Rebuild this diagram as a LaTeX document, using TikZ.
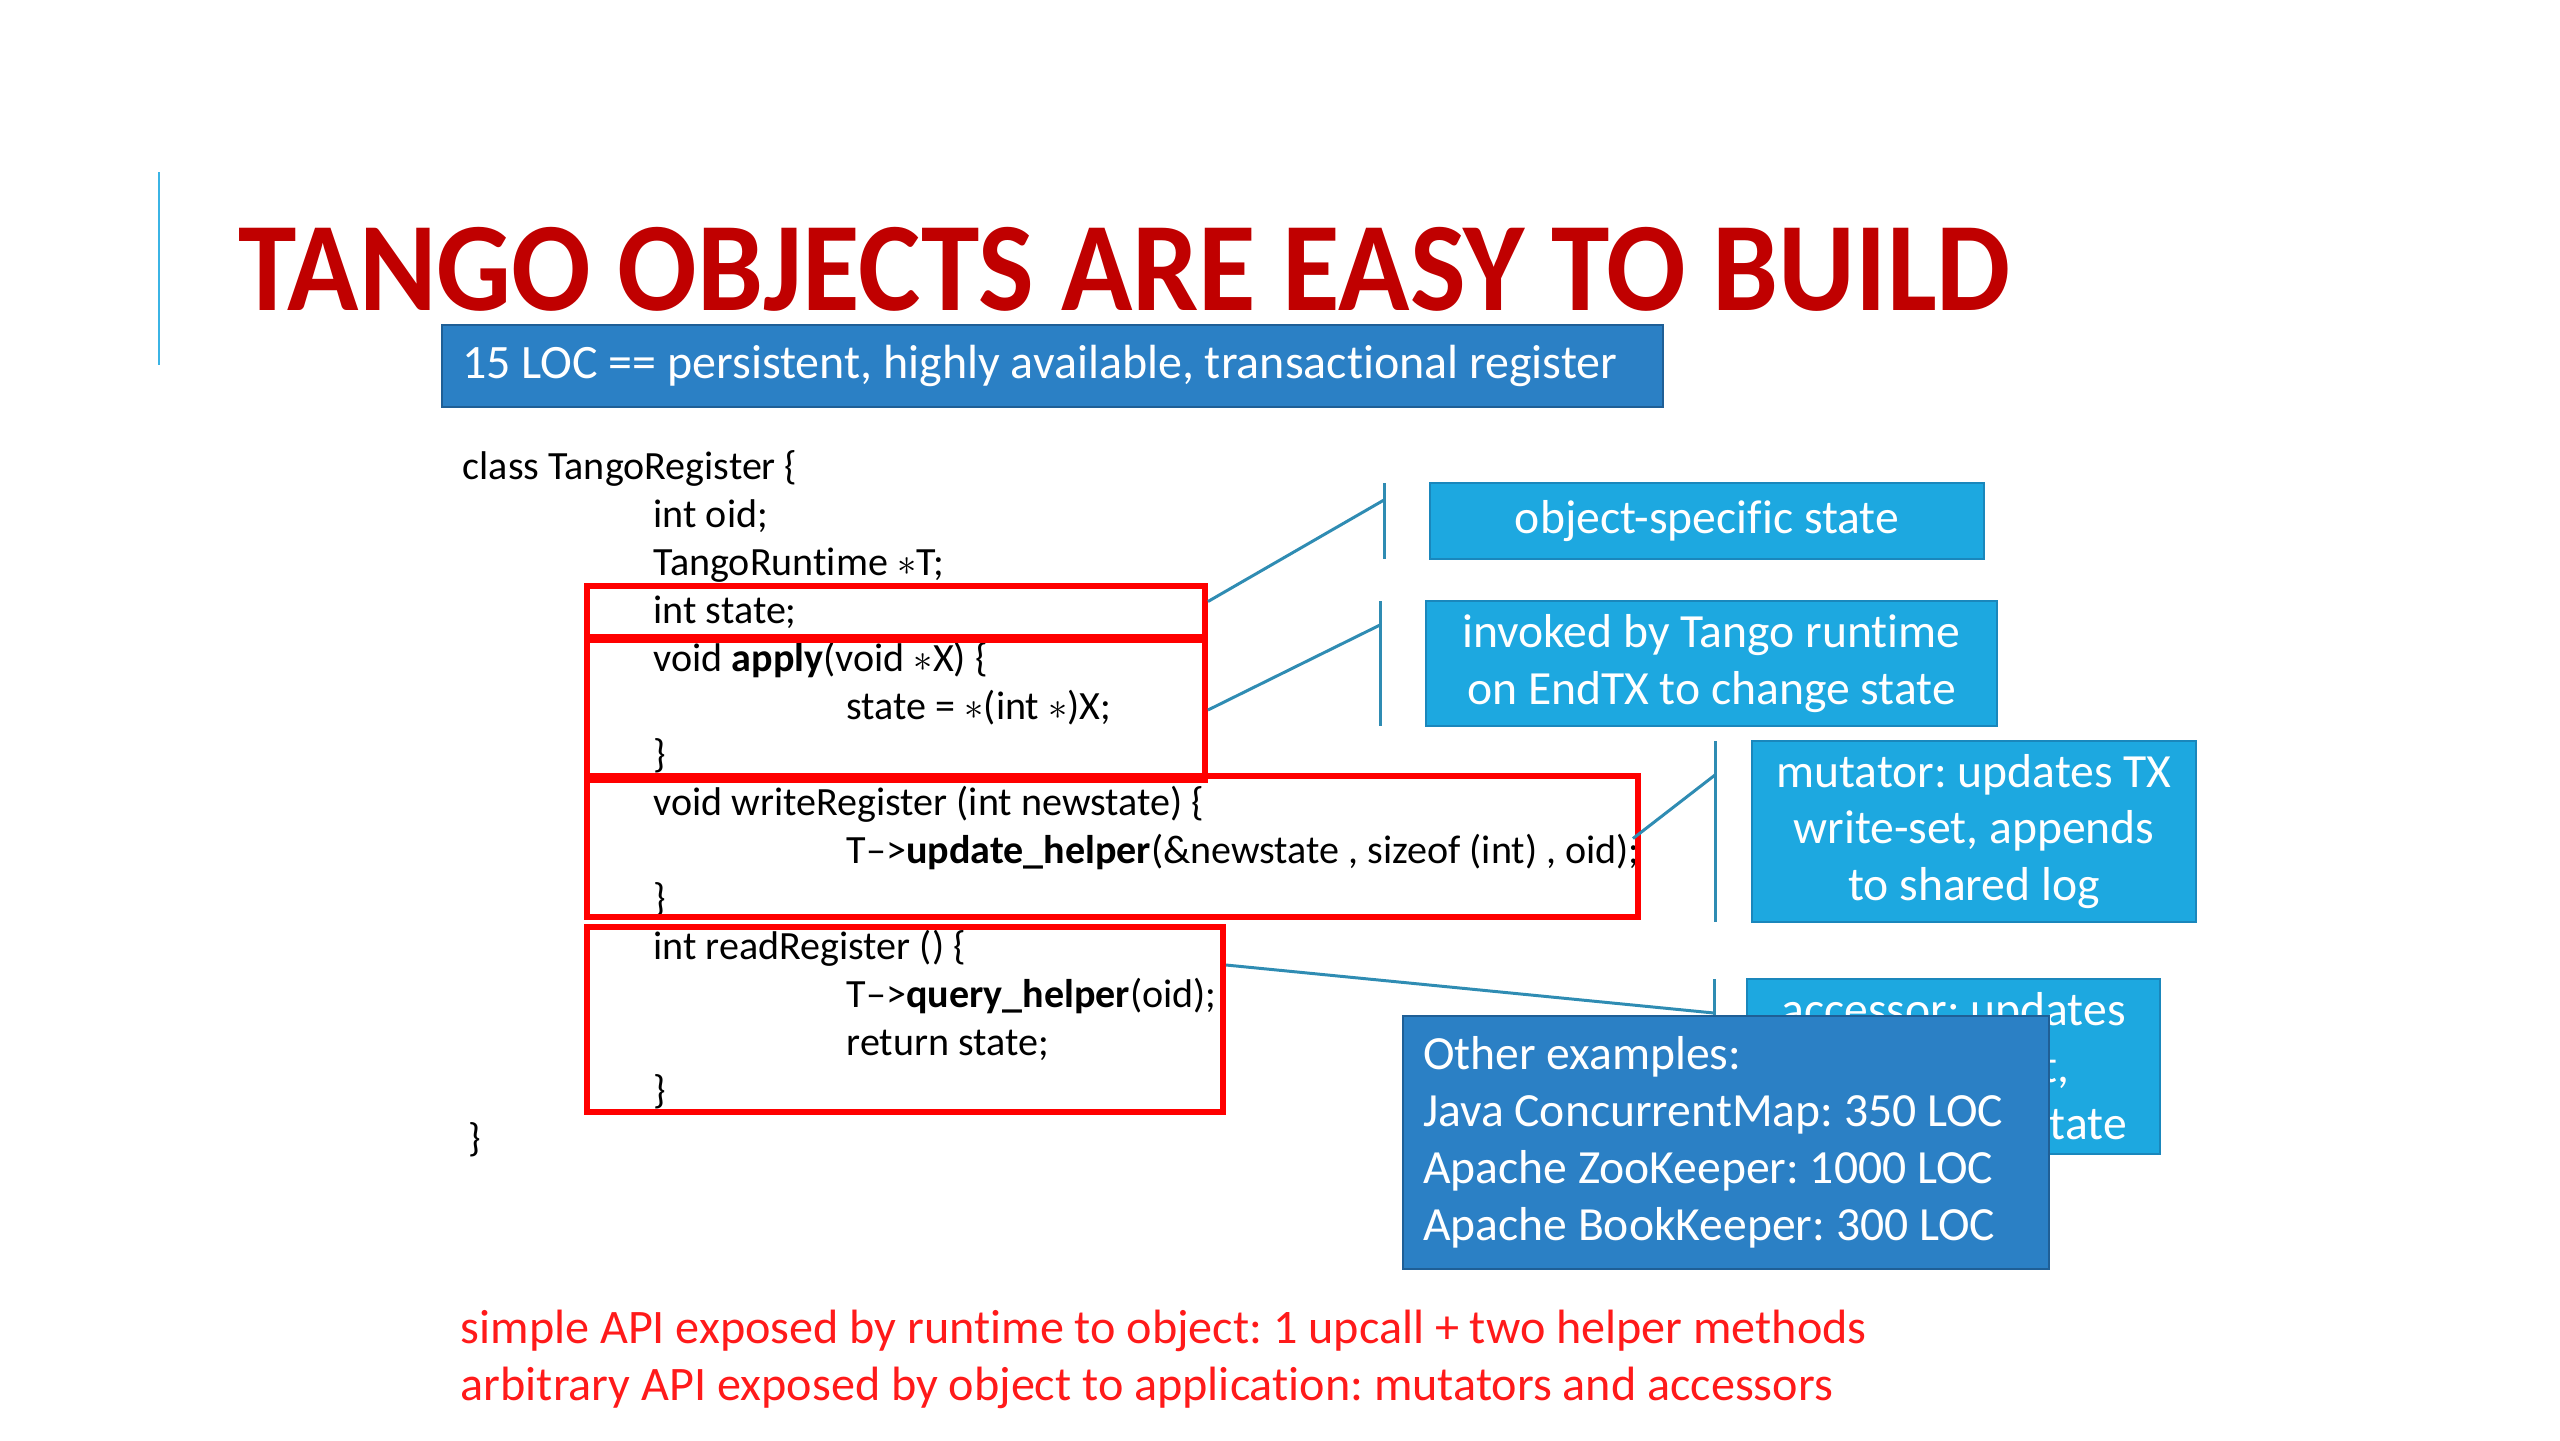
\documentclass[tikz,border=0pt]{standalone}
\usepackage{fontspec}
\setmainfont{Carlito}[Ligatures=CommonOff]
\newfontfamily\titlefont[FakeStretch=0.928,Ligatures=CommonOff]{Carlito}
\frenchspacing
\definecolor{titlered}{HTML}{C00000}
\definecolor{bannerblue}{HTML}{2B80C5}
\definecolor{banneredge}{HTML}{1F5F96}
\definecolor{notefill}{HTML}{1DA8E0}
\definecolor{notedge}{HTML}{1A87BC}
\definecolor{linkteal}{HTML}{2F8CB3}
\definecolor{boxred}{HTML}{FF0000}
\definecolor{apired}{HTML}{FF1A1A}
\definecolor{accent}{HTML}{3BB4E5}
\begin{document}
\begin{tikzpicture}[
    code/.style={anchor=base west, inner sep=0pt, font=\fontsize{11.4}{13.66}\selectfont},
    redbox/.style={draw=boxred, line width=1.7pt, inner sep=0pt},
    note/.style={draw=notedge, line width=0.8pt, fill=notefill, text=white, align=center, inner sep=0pt, font=\fontsize{13.55}{16.2}\selectfont},
    link/.style={draw=linkteal, line width=0.85pt}
  ]
  \useasboundingbox[fill=white] (0,0) rectangle (25.6,-14.4);

  % title
  \draw[accent, line width=0.85pt] (1.59,-1.72) -- (1.59,-3.65);
  \node[anchor=base west, inner sep=0pt, text=titlered, font=\titlefont\bfseries\fontsize{36.1}{40}\selectfont] (title) at (2.38,-3.10) {TANGO OBJECTS ARE EASY TO BUILD};
  \node[fill=bannerblue, draw=banneredge, line width=0.8pt, text=white, minimum width=12.21cm, minimum height=0.82cm, text width=11.81cm, inner xsep=0.2cm, inner ysep=0pt, align=flush left, font=\fontsize{13.65}{16.2}\selectfont] (banner) at (10.525,-3.66) {15 LOC == persistent, highly available, transactional register};

  % code
  \node[code] (l1) at (4.62,-4.79) {class TangoRegister \{};
  \node[code] (l2) at (6.53,-5.27) {int oid;};
  \node[code] (l3) at (6.53,-5.75) {TangoRuntime $\ast$T;};
  \node[code] (l4) at (6.53,-6.23) {int state;};
  \node[code] (l5) at (6.53,-6.71) {void \textbf{apply}(void $\ast$X) \{};
  \node[code] (l6) at (8.46,-7.19) {state = $\ast$(int $\ast$)X;};
  \node[code] (l7) at (6.53,-7.67) {\}};
  \node[code] (l8) at (6.53,-8.15) {void writeRegister (int newstate) \{};
  \node[code] (l9) at (8.46,-8.63) {T\textendash>\textbf{update\_helper}(\&newstate , sizeof (int) , oid);};
  \node[code] (l10) at (6.53,-9.11) {\}};
  \node[code] (l11) at (6.53,-9.59) {int readRegister () \{};
  \node[code] (l12) at (8.46,-10.07) {T\textendash>\textbf{query\_helper}(oid);};
  \node[code] (l13) at (8.46,-10.55) {return state;};
  \node[code] (l14) at (6.53,-11.03) {\}};
  \node[code] (l15) at (4.68,-11.51) {\}};

  \node[redbox, minimum width=6.18cm, minimum height=0.51cm] (stateBox) at (8.96,-6.115) {};
  \node[redbox, minimum width=6.18cm, minimum height=1.40cm] (applyBox) at (8.96,-7.10) {};
  \node[redbox, minimum width=10.51cm, minimum height=1.41cm] (writeBox) at (11.125,-8.465) {};
  \node[redbox, minimum width=6.36cm, minimum height=1.85cm] (readBox) at (9.05,-10.195) {};

  % callouts
  \node[note, minimum width=5.54cm, minimum height=0.76cm] (objState) at (17.07,-5.21) {object-specific state};
  \node[note, minimum width=5.71cm, minimum height=1.25cm] (applyNote) at (17.115,-6.635) {invoked by Tango runtime\\on EndTX to change state};
  \node[note, minimum width=4.44cm, minimum height=1.81cm] (mutNote) at (19.74,-8.315) {mutator: updates TX\\write-set, appends\\to shared log};
  \node[note, minimum width=4.13cm, minimum height=1.75cm] (accNote) at (19.535,-10.665) {accessor: updates\\TX read-set,\\returns local state};

  \coordinate (t1) at (13.84,-4.83); \coordinate (b1) at (13.84,-5.59); \coordinate (e1) at (13.84,-5.00);
  \coordinate (t2) at (13.80,-6.01); \coordinate (b2) at (13.80,-7.26); \coordinate (e2) at (13.80,-6.25);
  \coordinate (t3) at (17.15,-7.41); \coordinate (b3) at (17.15,-9.22); \coordinate (e3) at (17.15,-7.75);
  \coordinate (t4) at (17.14,-9.79); \coordinate (b4) at (17.14,-11.54); \coordinate (e4) at (17.14,-10.13);

  \draw[link] (t1) -- (b1);
  \draw[link] ([yshift=1mm]stateBox.east) -- (e1);
  \draw[link] (t2) -- (b2);
  \draw[link] (applyBox.east) -- (e2);
  \draw[link] (t3) -- (b3);
  \draw[link] ([xshift=-0.8mm,yshift=0.8mm]writeBox.east) -- (e3);
  \draw[link] (t4) -- (b4);
  \draw[link] ([yshift=5.45mm]readBox.east) -- (e4);

  \node[note, fill=bannerblue, draw=banneredge, align=flush left, minimum width=6.46cm, minimum height=2.53cm, text width=6.06cm, inner xsep=0.2cm] (others) at (17.26,-11.425) {Other examples:\\Java ConcurrentMap: 350 LOC\\Apache ZooKeeper: 1000 LOC\\Apache BookKeeper: 300 LOC};

  % bottom remarks
  \node[anchor=base west, inner sep=0pt, text=apired, font=\fontsize{13.7}{16.2}\selectfont] (api1) at (4.60,-13.43) {simple API exposed by runtime to object: 1 upcall + two helper methods};
  \node[anchor=base west, inner sep=0pt, text=apired, font=\fontsize{13.7}{16.2}\selectfont] (api2) at (4.60,-14.00) {arbitrary API exposed by object to application: mutators and accessors};
\end{tikzpicture}
\end{document}
